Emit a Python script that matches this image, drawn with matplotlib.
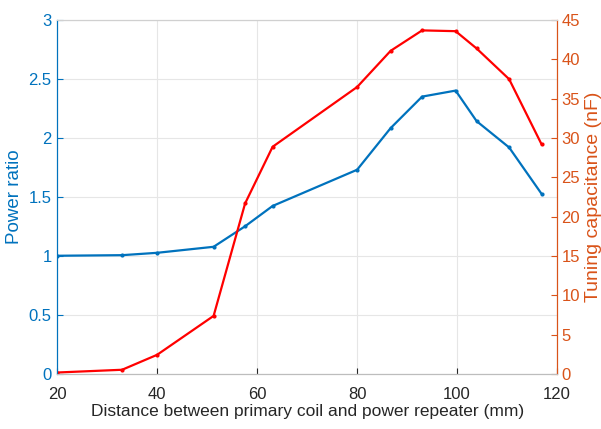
import numpy as np
import matplotlib.pyplot as plt

plt.rcParams['font.family'] = ['Liberation Sans', 'DejaVu Sans']

distance = [20, 33, 40, 51.3, 57.6, 63.1, 80, 86.7, 93, 99.7, 103.9, 110.4, 116.9]
power_ratio = [1.003, 1.008, 1.028, 1.079, 1.253, 1.425, 1.732, 2.085, 2.352, 2.403, 2.144, 1.921, 1.527]
capacitance = [0.2, 0.55, 2.45, 7.4, 21.7, 28.9, 36.5, 41.1, 43.7, 43.6, 41.4, 37.5, 29.2]

blue = (0.0, 0.447, 0.741)
orange = (0.85, 0.325, 0.098)

fig = plt.figure(figsize=(6.01, 4.29), dpi=100)
ax = fig.add_axes([0.095, 0.128, 0.832, 0.825])
ax2 = ax.twinx()

ax.plot(distance, power_ratio, color=blue, lw=1.6, marker='.', ms=4)
ax2.plot(distance, capacitance, color='red', lw=1.6, marker='.', ms=4)

ax.set_xlim(20, 120)
ax.set_ylim(0, 3)
ax2.set_ylim(0, 45)
ax.set_xticks(np.arange(20, 121, 20))
ax.set_yticks(np.arange(0, 3.01, 0.5))
ax.set_yticklabels(['0', '0.5', '1', '1.5', '2', '2.5', '3'])
ax2.set_yticks(np.arange(0, 46, 5))

ax.grid(True, color='#e6e6e6', lw=0.8)
ax.set_axisbelow(True)

ax.tick_params(axis='y', colors=blue, labelsize=12, direction='in', length=4, pad=4)
ax.tick_params(axis='x', colors='#262626', labelsize=12, direction='in', length=4, pad=9)
ax2.tick_params(axis='y', colors=orange, labelsize=12, direction='in', length=4, pad=3)

ax.set_ylabel('Power ratio', color=blue, fontsize=13.5, labelpad=4)
ax2.set_ylabel('Tuning capacitance (nF)', color=orange, fontsize=14, labelpad=4)
ax.set_xlabel('Distance between primary coil and power repeater (mm)', color='#262626',
              fontsize=12.5, labelpad=2)

for a in (ax, ax2):
    a.spines['top'].set_color('#d0d0d0')
    a.spines['bottom'].set_color('#bdbdbd')
    a.spines['left'].set_color(blue)
    a.spines['right'].set_color(orange)

fig.savefig('out.png', dpi=100)
